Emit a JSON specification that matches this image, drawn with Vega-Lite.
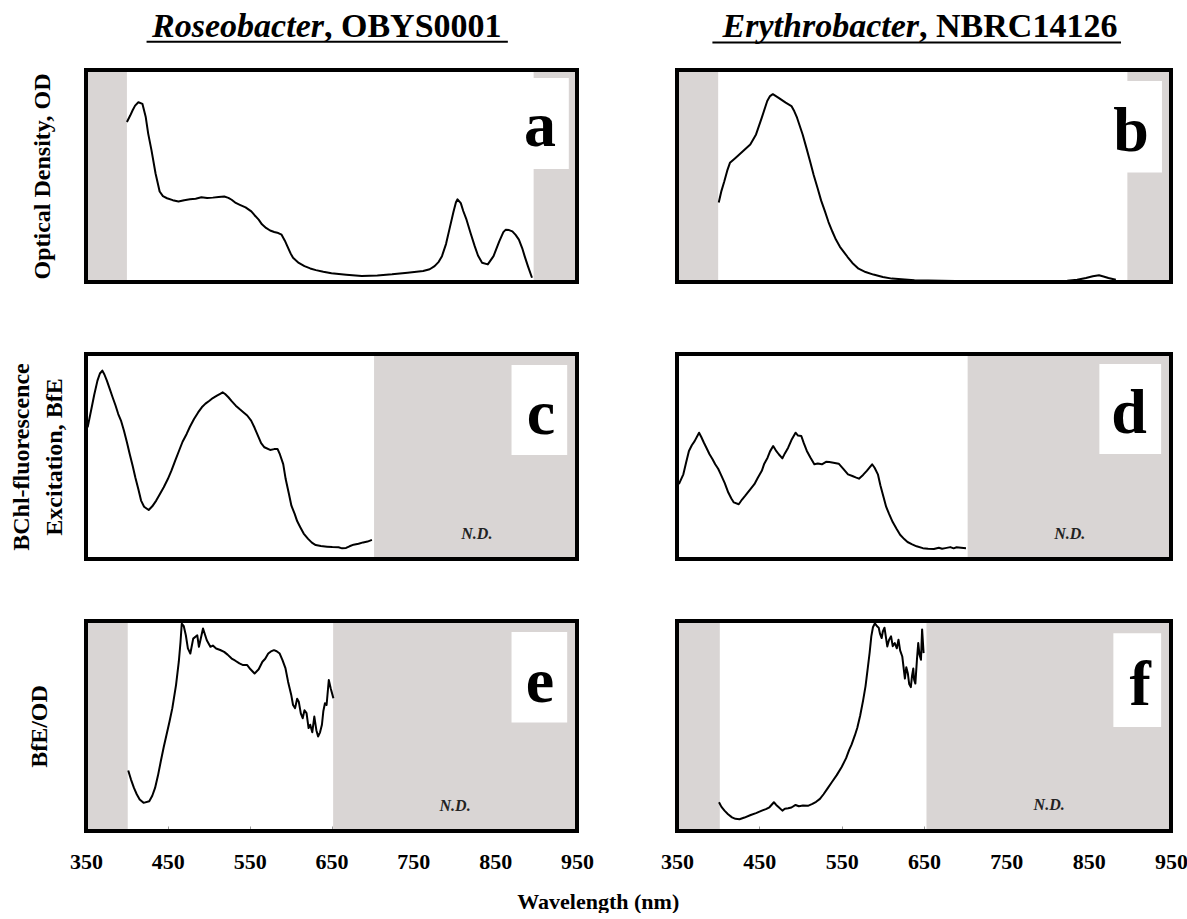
{
"$schema": "https://vega.github.io/schema/vega-lite/v6.json",
"background": "white",
"padding": {"left": 9, "top": 9, "right": 5, "bottom": 0},
"datasets": {
"shades": [
{"panel":"a","w":350,"w2":400,"v":0,"v2":1},{"panel":"a","w":897,"w2":950,"v":0,"v2":1},
{"panel":"b","w":350,"w2":400,"v":0,"v2":1},{"panel":"b","w":897,"w2":950,"v":0,"v2":1},
{"panel":"c","w":702,"w2":950,"v":0,"v2":1},
{"panel":"d","w":703,"w2":950,"v":0,"v2":1},
{"panel":"e","w":350,"w2":401,"v":0,"v2":1},{"panel":"e","w":652,"w2":950,"v":0,"v2":1},
{"panel":"f","w":350,"w2":402,"v":0,"v2":1},{"panel":"f","w":653,"w2":950,"v":0,"v2":1}
],
"boxes": [
{"panel":"a","w":870,"w2":940,"v":0.533,"v2":0.962},
{"panel":"b","w":872,"w2":939,"v":0.517,"v2":0.948},
{"panel":"c","w":870,"w2":938,"v":0.507,"v2":0.946},
{"panel":"d","w":863,"w2":938,"v":0.512,"v2":0.951},
{"panel":"e","w":870,"w2":938,"v":0.517,"v2":0.948},
{"panel":"f","w":880,"w2":938,"v":0.495,"v2":0.942}
],
"letters": [
{"panel":"a","w":904.7,"v":0.643,"text":"a"},
{"panel":"b","w":901.4,"v":0.616,"text":"b"},
{"panel":"c","w":905.9,"v":0.61,"text":"c"},
{"panel":"d","w":899,"v":0.615,"text":"d"},
{"panel":"e","w":904.7,"v":0.616,"text":"e"},
{"panel":"f","w":912.4,"v":0.602,"text":"f"}
],
"notes": [
{"panel":"c","w":827.6,"v":0.10,"text":"N.D."},
{"panel":"d","w":827,"v":0.10,"text":"N.D."},
{"panel":"e","w":801,"v":0.095,"text":"N.D."},
{"panel":"f","w":802,"v":0.10,"text":"N.D."}
],
"heads": [
{"panel":"a","w":640.8,"v":1.158,"part":"genus","text":"Roseobacter"},
{"panel":"a","w":640.8,"v":1.158,"part":"strain","text":", OBYS0001"},
{"panel":"b","w":644,"v":1.155,"part":"genus","text":"Erythrobacter"},
{"panel":"b","w":644,"v":1.155,"part":"strain","text":", NBRC14126"}
],
"underlines": [
{"panel":"a","w":424,"w2":865.5,"v":1.133},
{"panel":"b","w":393,"w2":889.3,"v":1.13}
],
"frames": [
{"panel":"a","w":350,"w2":950,"v":0,"v2":1},
{"panel":"b","w":350,"w2":950,"v":0,"v2":1},
{"panel":"c","w":350,"w2":950,"v":0,"v2":1},
{"panel":"d","w":350,"w2":950,"v":0,"v2":1},
{"panel":"e","w":350,"w2":950,"v":0,"v2":1},
{"panel":"f","w":350,"w2":950,"v":0,"v2":1}
],
"spectra": [
{"panel":"a","w":400,"v":0.755},{"panel":"a","w":404,"v":0.785},{"panel":"a","w":407,"v":0.81},{"panel":"a","w":410,"v":0.832},{"panel":"a","w":414,"v":0.848},{"panel":"a","w":419,"v":0.84},{"panel":"a","w":423,"v":0.778},{"panel":"a","w":426,"v":0.7},{"panel":"a","w":430,"v":0.622},{"panel":"a","w":435,"v":0.512},{"panel":"a","w":440,"v":0.427},{"panel":"a","w":444,"v":0.405},{"panel":"a","w":449,"v":0.395},{"panel":"a","w":456,"v":0.386},{"panel":"a","w":463,"v":0.38},{"panel":"a","w":470,"v":0.386},{"panel":"a","w":477,"v":0.39},{"panel":"a","w":484,"v":0.393},{"panel":"a","w":491,"v":0.4},{"panel":"a","w":498,"v":0.396},{"panel":"a","w":505,"v":0.398},{"panel":"a","w":512,"v":0.401},{"panel":"a","w":519,"v":0.403},{"panel":"a","w":524,"v":0.397},{"panel":"a","w":528,"v":0.388},{"panel":"a","w":533,"v":0.373},{"panel":"a","w":538,"v":0.364},{"panel":"a","w":545,"v":0.352},{"panel":"a","w":552,"v":0.333},{"panel":"a","w":556,"v":0.315},{"panel":"a","w":561,"v":0.294},{"panel":"a","w":565,"v":0.272},{"panel":"a","w":570,"v":0.255},{"panel":"a","w":575,"v":0.243},{"panel":"a","w":580,"v":0.236},{"panel":"a","w":585,"v":0.231},{"panel":"a","w":589,"v":0.223},{"panel":"a","w":593,"v":0.195},{"panel":"a","w":596,"v":0.169},{"panel":"a","w":600,"v":0.135},{"panel":"a","w":603,"v":0.114},{"panel":"a","w":610,"v":0.09},{"panel":"a","w":617,"v":0.075},{"panel":"a","w":624,"v":0.064},{"panel":"a","w":631,"v":0.056},{"panel":"a","w":640,"v":0.048},{"panel":"a","w":650,"v":0.041},{"panel":"a","w":668,"v":0.034},{"panel":"a","w":687,"v":0.028},{"panel":"a","w":706,"v":0.031},{"panel":"a","w":724,"v":0.036},{"panel":"a","w":743,"v":0.044},{"panel":"a","w":762,"v":0.052},{"panel":"a","w":770,"v":0.06},{"panel":"a","w":776,"v":0.075},{"panel":"a","w":781,"v":0.095},{"panel":"a","w":785,"v":0.122},{"panel":"a","w":790,"v":0.18},{"panel":"a","w":794,"v":0.247},{"panel":"a","w":799,"v":0.33},{"panel":"a","w":802,"v":0.375},{"panel":"a","w":804,"v":0.39},{"panel":"a","w":808,"v":0.372},{"panel":"a","w":811,"v":0.335},{"panel":"a","w":815,"v":0.294},{"panel":"a","w":820,"v":0.23},{"panel":"a","w":825,"v":0.169},{"panel":"a","w":829,"v":0.125},{"panel":"a","w":834,"v":0.091},{"panel":"a","w":841,"v":0.083},{"panel":"a","w":848,"v":0.122},{"panel":"a","w":855,"v":0.192},{"panel":"a","w":860,"v":0.235},{"panel":"a","w":863,"v":0.247},{"panel":"a","w":867,"v":0.245},{"panel":"a","w":871,"v":0.239},{"panel":"a","w":875,"v":0.222},{"panel":"a","w":879,"v":0.2},{"panel":"a","w":883,"v":0.16},{"panel":"a","w":886,"v":0.122},{"panel":"a","w":890,"v":0.075},{"panel":"a","w":895,"v":0.02},
{"panel":"b","w":400.7,"v":0.375},{"panel":"b","w":404,"v":0.43},{"panel":"b","w":407.5,"v":0.475},{"panel":"b","w":411,"v":0.525},{"panel":"b","w":414.3,"v":0.562},{"panel":"b","w":421,"v":0.585},{"panel":"b","w":430,"v":0.617},{"panel":"b","w":439,"v":0.649},{"panel":"b","w":446,"v":0.696},{"panel":"b","w":453,"v":0.775},{"panel":"b","w":459.6,"v":0.854},{"panel":"b","w":463,"v":0.877},{"panel":"b","w":466.4,"v":0.886},{"panel":"b","w":473,"v":0.87},{"panel":"b","w":482,"v":0.846},{"panel":"b","w":489,"v":0.83},{"panel":"b","w":492.5,"v":0.805},{"panel":"b","w":495.8,"v":0.775},{"panel":"b","w":502.6,"v":0.696},{"panel":"b","w":507,"v":0.635},{"panel":"b","w":511.6,"v":0.57},{"panel":"b","w":516,"v":0.505},{"panel":"b","w":520.7,"v":0.443},{"panel":"b","w":525,"v":0.385},{"panel":"b","w":529.8,"v":0.332},{"panel":"b","w":534,"v":0.283},{"panel":"b","w":538.8,"v":0.237},{"panel":"b","w":543,"v":0.2},{"panel":"b","w":547.9,"v":0.166},{"panel":"b","w":557,"v":0.119},{"panel":"b","w":563,"v":0.09},{"panel":"b","w":570.5,"v":0.063},{"panel":"b","w":579,"v":0.047},{"panel":"b","w":588.6,"v":0.035},{"panel":"b","w":600,"v":0.024},{"panel":"b","w":611,"v":0.016},{"panel":"b","w":638.4,"v":0.008},{"panel":"b","w":688,"v":0.005},{"panel":"b","w":756,"v":0.005},{"panel":"b","w":824,"v":0.006},{"panel":"b","w":836,"v":0.011},{"panel":"b","w":846.7,"v":0.019},{"panel":"b","w":855,"v":0.027},{"panel":"b","w":862.6,"v":0.032},{"panel":"b","w":868,"v":0.026},{"panel":"b","w":874,"v":0.019},{"panel":"b","w":883,"v":0.011},
{"panel":"c","w":352,"v":0.642},{"panel":"c","w":357,"v":0.74},{"panel":"c","w":360,"v":0.8},{"panel":"c","w":364,"v":0.87},{"panel":"c","w":367,"v":0.905},{"panel":"c","w":370,"v":0.919},{"panel":"c","w":372.5,"v":0.9},{"panel":"c","w":375.5,"v":0.87},{"panel":"c","w":379,"v":0.83},{"panel":"c","w":382.5,"v":0.789},{"panel":"c","w":386,"v":0.75},{"panel":"c","w":389.4,"v":0.707},{"panel":"c","w":393,"v":0.672},{"panel":"c","w":396.4,"v":0.626},{"panel":"c","w":400,"v":0.57},{"panel":"c","w":403.4,"v":0.512},{"panel":"c","w":407,"v":0.455},{"panel":"c","w":410.3,"v":0.398},{"panel":"c","w":414,"v":0.34},{"panel":"c","w":417.3,"v":0.285},{"panel":"c","w":421,"v":0.255},{"panel":"c","w":426.6,"v":0.239},{"panel":"c","w":431,"v":0.257},{"panel":"c","w":435.8,"v":0.285},{"panel":"c","w":440,"v":0.315},{"panel":"c","w":445,"v":0.35},{"panel":"c","w":450,"v":0.39},{"panel":"c","w":454.4,"v":0.431},{"panel":"c","w":459,"v":0.48},{"panel":"c","w":463.7,"v":0.528},{"panel":"c","w":468,"v":0.572},{"panel":"c","w":473,"v":0.61},{"panel":"c","w":477,"v":0.645},{"panel":"c","w":482,"v":0.683},{"panel":"c","w":487,"v":0.715},{"panel":"c","w":491.5,"v":0.74},{"panel":"c","w":496,"v":0.758},{"panel":"c","w":500.8,"v":0.772},{"panel":"c","w":505,"v":0.785},{"panel":"c","w":510,"v":0.797},{"panel":"c","w":514,"v":0.806},{"panel":"c","w":517,"v":0.813},{"panel":"c","w":520,"v":0.805},{"panel":"c","w":524,"v":0.789},{"panel":"c","w":528,"v":0.77},{"panel":"c","w":533,"v":0.748},{"panel":"c","w":538,"v":0.73},{"panel":"c","w":542.6,"v":0.715},{"panel":"c","w":547,"v":0.7},{"panel":"c","w":551.8,"v":0.675},{"panel":"c","w":556,"v":0.64},{"panel":"c","w":561,"v":0.593},{"panel":"c","w":564,"v":0.565},{"panel":"c","w":568,"v":0.545},{"panel":"c","w":575,"v":0.532},{"panel":"c","w":580,"v":0.536},{"panel":"c","w":584,"v":0.537},{"panel":"c","w":587,"v":0.51},{"panel":"c","w":591,"v":0.463},{"panel":"c","w":594,"v":0.39},{"panel":"c","w":598,"v":0.317},{"panel":"c","w":601,"v":0.26},{"panel":"c","w":605,"v":0.22},{"panel":"c","w":608,"v":0.185},{"panel":"c","w":612,"v":0.154},{"panel":"c","w":616,"v":0.124},{"panel":"c","w":621.4,"v":0.098},{"panel":"c","w":626,"v":0.08},{"panel":"c","w":630.7,"v":0.068},{"panel":"c","w":637,"v":0.063},{"panel":"c","w":644.6,"v":0.06},{"panel":"c","w":651,"v":0.058},{"panel":"c","w":658.6,"v":0.057},{"panel":"c","w":663,"v":0.052},{"panel":"c","w":667.8,"v":0.054},{"panel":"c","w":672,"v":0.062},{"panel":"c","w":677,"v":0.07},{"panel":"c","w":683,"v":0.074},{"panel":"c","w":688.7,"v":0.081},{"panel":"c","w":694,"v":0.085},{"panel":"c","w":699.4,"v":0.093},
{"panel":"d","w":352.3,"v":0.365},{"panel":"d","w":357.7,"v":0.413},{"panel":"d","w":361,"v":0.47},{"panel":"d","w":364.5,"v":0.527},{"panel":"d","w":368,"v":0.555},{"panel":"d","w":371.4,"v":0.575},{"panel":"d","w":376.8,"v":0.616},{"panel":"d","w":379.5,"v":0.595},{"panel":"d","w":382.7,"v":0.567},{"panel":"d","w":386,"v":0.54},{"panel":"d","w":389.5,"v":0.511},{"panel":"d","w":393,"v":0.488},{"panel":"d","w":396.4,"v":0.462},{"panel":"d","w":400,"v":0.44},{"panel":"d","w":403.2,"v":0.413},{"panel":"d","w":408,"v":0.37},{"panel":"d","w":412.3,"v":0.324},{"panel":"d","w":416,"v":0.295},{"panel":"d","w":419,"v":0.276},{"panel":"d","w":425,"v":0.267},{"panel":"d","w":429,"v":0.29},{"panel":"d","w":432.7,"v":0.308},{"panel":"d","w":438,"v":0.335},{"panel":"d","w":444,"v":0.365},{"panel":"d","w":448,"v":0.395},{"panel":"d","w":453,"v":0.43},{"panel":"d","w":456,"v":0.465},{"panel":"d","w":460,"v":0.494},{"panel":"d","w":463,"v":0.525},{"panel":"d","w":466.8,"v":0.551},{"panel":"d","w":470,"v":0.53},{"panel":"d","w":473.6,"v":0.511},{"panel":"d","w":478,"v":0.491},{"panel":"d","w":481,"v":0.515},{"panel":"d","w":485,"v":0.543},{"panel":"d","w":489,"v":0.58},{"panel":"d","w":494,"v":0.616},{"panel":"d","w":497,"v":0.602},{"panel":"d","w":501,"v":0.6},{"panel":"d","w":504,"v":0.565},{"panel":"d","w":507.7,"v":0.527},{"panel":"d","w":512,"v":0.495},{"panel":"d","w":516.8,"v":0.462},{"panel":"d","w":521,"v":0.466},{"panel":"d","w":526,"v":0.462},{"panel":"d","w":531,"v":0.474},{"panel":"d","w":535,"v":0.473},{"panel":"d","w":540,"v":0.47},{"panel":"d","w":546.4,"v":0.465},{"panel":"d","w":552,"v":0.44},{"panel":"d","w":557.7,"v":0.413},{"panel":"d","w":563,"v":0.405},{"panel":"d","w":567,"v":0.398},{"panel":"d","w":571,"v":0.392},{"panel":"d","w":576,"v":0.41},{"panel":"d","w":580.5,"v":0.43},{"panel":"d","w":587,"v":0.462},{"panel":"d","w":590,"v":0.445},{"panel":"d","w":594,"v":0.413},{"panel":"d","w":597,"v":0.36},{"panel":"d","w":601,"v":0.3},{"panel":"d","w":604,"v":0.255},{"panel":"d","w":607.7,"v":0.219},{"panel":"d","w":612,"v":0.18},{"panel":"d","w":616.8,"v":0.146},{"panel":"d","w":621,"v":0.118},{"panel":"d","w":626,"v":0.097},{"panel":"d","w":630,"v":0.083},{"panel":"d","w":635,"v":0.073},{"panel":"d","w":641,"v":0.062},{"panel":"d","w":648.6,"v":0.053},{"panel":"d","w":655,"v":0.05},{"panel":"d","w":662,"v":0.049},{"panel":"d","w":668,"v":0.055},{"panel":"d","w":672,"v":0.05},{"panel":"d","w":676,"v":0.053},{"panel":"d","w":682,"v":0.058},{"panel":"d","w":686,"v":0.052},{"panel":"d","w":689.5,"v":0.057},{"panel":"d","w":695,"v":0.055},{"panel":"d","w":701,"v":0.053},
{"panel":"e","w":401.6,"v":0.288},{"panel":"e","w":405,"v":0.245},{"panel":"e","w":408.6,"v":0.205},{"panel":"e","w":412,"v":0.175},{"panel":"e","w":415.6,"v":0.15},{"panel":"e","w":420.3,"v":0.134},{"panel":"e","w":427.3,"v":0.142},{"panel":"e","w":431,"v":0.168},{"panel":"e","w":434.4,"v":0.205},{"panel":"e","w":438,"v":0.265},{"panel":"e","w":441.4,"v":0.332},{"panel":"e","w":445,"v":0.4},{"panel":"e","w":448.4,"v":0.458},{"panel":"e","w":452,"v":0.52},{"panel":"e","w":455.5,"v":0.585},{"panel":"e","w":460,"v":0.695},{"panel":"e","w":463.4,"v":0.806},{"panel":"e","w":465.5,"v":0.9},{"panel":"e","w":467,"v":0.987},{"panel":"e","w":469.5,"v":0.975},{"panel":"e","w":472,"v":0.932},{"panel":"e","w":474.5,"v":0.87},{"panel":"e","w":477.5,"v":0.845},{"panel":"e","w":481,"v":0.916},{"panel":"e","w":486,"v":0.932},{"panel":"e","w":488,"v":0.877},{"panel":"e","w":493,"v":0.964},{"panel":"e","w":497.6,"v":0.908},{"panel":"e","w":502,"v":0.877},{"panel":"e","w":505,"v":0.883},{"panel":"e","w":509,"v":0.869},{"panel":"e","w":514,"v":0.862},{"panel":"e","w":518.8,"v":0.853},{"panel":"e","w":523,"v":0.84},{"panel":"e","w":528,"v":0.821},{"panel":"e","w":532,"v":0.812},{"panel":"e","w":537.5,"v":0.798},{"panel":"e","w":542,"v":0.79},{"panel":"e","w":547,"v":0.79},{"panel":"e","w":551,"v":0.77},{"panel":"e","w":556,"v":0.75},{"panel":"e","w":561,"v":0.77},{"panel":"e","w":565.6,"v":0.806},{"panel":"e","w":569,"v":0.82},{"panel":"e","w":572.7,"v":0.845},{"panel":"e","w":576,"v":0.855},{"panel":"e","w":579.7,"v":0.861},{"panel":"e","w":583,"v":0.856},{"panel":"e","w":586.7,"v":0.845},{"panel":"e","w":590,"v":0.815},{"panel":"e","w":593.8,"v":0.774},{"panel":"e","w":597,"v":0.71},{"panel":"e","w":600.8,"v":0.648},{"panel":"e","w":603,"v":0.6},{"panel":"e","w":605.5,"v":0.585},{"panel":"e","w":608,"v":0.63},{"panel":"e","w":610,"v":0.616},{"panel":"e","w":612.5,"v":0.56},{"panel":"e","w":614.8,"v":0.537},{"panel":"e","w":617,"v":0.575},{"panel":"e","w":619.5,"v":0.561},{"panel":"e","w":622,"v":0.49},{"panel":"e","w":624,"v":0.506},{"panel":"e","w":626.5,"v":0.47},{"panel":"e","w":629,"v":0.545},{"panel":"e","w":631.5,"v":0.48},{"panel":"e","w":633.6,"v":0.45},{"panel":"e","w":636,"v":0.47},{"panel":"e","w":638.3,"v":0.506},{"panel":"e","w":640,"v":0.57},{"panel":"e","w":642,"v":0.608},{"panel":"e","w":644,"v":0.6},{"panel":"e","w":646.7,"v":0.719},{"panel":"e","w":649,"v":0.68},{"panel":"e","w":652.3,"v":0.632},
{"panel":"f","w":401,"v":0.137},{"panel":"f","w":404,"v":0.115},{"panel":"f","w":407.7,"v":0.097},{"panel":"f","w":412,"v":0.08},{"panel":"f","w":416.8,"v":0.065},{"panel":"f","w":421,"v":0.058},{"panel":"f","w":425.9,"v":0.056},{"panel":"f","w":432,"v":0.064},{"panel":"f","w":439.5,"v":0.076},{"panel":"f","w":446,"v":0.085},{"panel":"f","w":453,"v":0.097},{"panel":"f","w":458,"v":0.104},{"panel":"f","w":462.3,"v":0.113},{"panel":"f","w":467.7,"v":0.137},{"panel":"f","w":470.5,"v":0.124},{"panel":"f","w":473.6,"v":0.113},{"panel":"f","w":478,"v":0.097},{"panel":"f","w":481,"v":0.106},{"panel":"f","w":485,"v":0.108},{"panel":"f","w":489,"v":0.112},{"panel":"f","w":494,"v":0.124},{"panel":"f","w":498,"v":0.118},{"panel":"f","w":503,"v":0.121},{"panel":"f","w":509,"v":0.12},{"panel":"f","w":514.5,"v":0.129},{"panel":"f","w":519,"v":0.139},{"panel":"f","w":523.6,"v":0.153},{"panel":"f","w":528,"v":0.175},{"panel":"f","w":532.7,"v":0.202},{"panel":"f","w":538,"v":0.232},{"panel":"f","w":544,"v":0.266},{"panel":"f","w":550,"v":0.305},{"panel":"f","w":555.4,"v":0.347},{"panel":"f","w":559,"v":0.385},{"panel":"f","w":562,"v":0.411},{"panel":"f","w":566,"v":0.455},{"panel":"f","w":569,"v":0.492},{"panel":"f","w":572.5,"v":0.55},{"panel":"f","w":576,"v":0.621},{"panel":"f","w":579,"v":0.69},{"panel":"f","w":581.4,"v":0.766},{"panel":"f","w":584,"v":0.85},{"panel":"f","w":586,"v":0.927},{"panel":"f","w":588,"v":0.97},{"panel":"f","w":590.4,"v":0.989},{"panel":"f","w":593,"v":0.975},{"panel":"f","w":595,"v":0.968},{"panel":"f","w":596.5,"v":0.94},{"panel":"f","w":598.6,"v":0.919},{"panel":"f","w":600,"v":0.95},{"panel":"f","w":602,"v":0.968},{"panel":"f","w":605.4,"v":0.879},{"panel":"f","w":607.5,"v":0.91},{"panel":"f","w":610,"v":0.927},{"panel":"f","w":612,"v":0.88},{"panel":"f","w":614.5,"v":0.895},{"panel":"f","w":617,"v":0.87},{"panel":"f","w":619,"v":0.911},{"panel":"f","w":621,"v":0.86},{"panel":"f","w":623.6,"v":0.831},{"panel":"f","w":626.8,"v":0.726},{"panel":"f","w":628.5,"v":0.78},{"panel":"f","w":630.4,"v":0.75},{"panel":"f","w":632,"v":0.7},{"panel":"f","w":634,"v":0.685},{"panel":"f","w":635.5,"v":0.74},{"panel":"f","w":637,"v":0.774},{"panel":"f","w":638,"v":0.72},{"panel":"f","w":639.5,"v":0.702},{"panel":"f","w":641.5,"v":0.82},{"panel":"f","w":643,"v":0.895},{"panel":"f","w":644.5,"v":0.84},{"panel":"f","w":646.3,"v":0.815},{"panel":"f","w":647.7,"v":0.96},{"panel":"f","w":649.5,"v":0.847}
]
},
"title": {"text": "Wavelength (nm)", "orient": "bottom", "anchor": "middle", "font": "Liberation Serif", "fontSize": 22, "fontWeight": "bold", "color": "black", "offset": 20},
"spacing": 68,
"resolve": {"scale": {"x": "independent", "y": "independent"}},
"vconcat": [
{"hconcat": [
 {"width": 491, "height": 212,
  "encoding": {"x": {"field": "w", "type": "quantitative", "scale": {"domain": [350, 950], "nice": false, "zero": false}, "axis": null},
               "y": {"field": "v", "type": "quantitative", "scale": {"domain": [0, 1], "nice": false, "zero": false}, "axis": {"title": "Optical Density, OD", "labels": false, "ticks": false, "domain": false, "grid": false, "titleFont": "Liberation Serif", "titleFontSize": 24, "titleFontWeight": "bold", "titleColor": "black", "titlePadding": 32}}},
  "layer": [
   {"data": {"name": "shades"}, "transform": [{"filter": "datum.panel == 'a'"}], "mark": {"type": "rect", "color": "#d9d5d4"}, "encoding": {"x2": {"field": "w2"}, "y2": {"field": "v2"}}},
   {"data": {"name": "boxes"}, "transform": [{"filter": "datum.panel == 'a'"}], "mark": {"type": "rect", "color": "white"}, "encoding": {"x2": {"field": "w2"}, "y2": {"field": "v2"}}},
   {"data": {"name": "spectra"}, "transform": [{"filter": "datum.panel == 'a'"}], "mark": {"type": "line", "color": "black", "strokeWidth": 2, "strokeJoin": "round"}, "encoding": {}},
   {"data": {"name": "letters"}, "transform": [{"filter": "datum.panel == 'a'"}], "mark": {"type": "text", "font": "Liberation Serif", "fontSize": 64, "fontWeight": "bold", "align": "center", "baseline": "alphabetic", "color": "black"}, "encoding": {"text": {"field": "text"}}},
   {"data": {"name": "heads"}, "transform": [{"filter": "datum.panel == 'a' && datum.part == 'genus'"}], "mark": {"type": "text", "font": "Liberation Serif", "fontSize": 34, "fontWeight": "bold", "fontStyle": "italic", "align": "right", "baseline": "alphabetic", "color": "black", "clip": false}, "encoding": {"text": {"field": "text"}}},
   {"data": {"name": "heads"}, "transform": [{"filter": "datum.panel == 'a' && datum.part == 'strain'"}], "mark": {"type": "text", "font": "Liberation Serif", "fontSize": 34, "fontWeight": "bold", "align": "left", "baseline": "alphabetic", "color": "black", "clip": false}, "encoding": {"text": {"field": "text"}}},
   {"data": {"name": "underlines"}, "transform": [{"filter": "datum.panel == 'a'"}], "mark": {"type": "rule", "color": "black", "strokeWidth": 2, "clip": false}, "encoding": {"x2": {"field": "w2"}}},
   {"data": {"name": "frames"}, "transform": [{"filter": "datum.panel == 'a'"}], "mark": {"type": "rect", "fill": null, "stroke": "black", "strokeWidth": 4}, "encoding": {"x2": {"field": "w2"}, "y2": {"field": "v2"}}}
  ]},
 {"width": 494, "height": 212,
  "encoding": {"x": {"field": "w", "type": "quantitative", "scale": {"domain": [350, 950], "nice": false, "zero": false}, "axis": null},
               "y": {"field": "v", "type": "quantitative", "scale": {"domain": [0, 1], "nice": false, "zero": false}, "axis": null}},
  "layer": [
   {"data": {"name": "shades"}, "transform": [{"filter": "datum.panel == 'b'"}], "mark": {"type": "rect", "color": "#d9d5d4"}, "encoding": {"x2": {"field": "w2"}, "y2": {"field": "v2"}}},
   {"data": {"name": "boxes"}, "transform": [{"filter": "datum.panel == 'b'"}], "mark": {"type": "rect", "color": "white"}, "encoding": {"x2": {"field": "w2"}, "y2": {"field": "v2"}}},
   {"data": {"name": "spectra"}, "transform": [{"filter": "datum.panel == 'b'"}], "mark": {"type": "line", "color": "black", "strokeWidth": 2, "strokeJoin": "round"}, "encoding": {}},
   {"data": {"name": "letters"}, "transform": [{"filter": "datum.panel == 'b'"}], "mark": {"type": "text", "font": "Liberation Serif", "fontSize": 64, "fontWeight": "bold", "align": "center", "baseline": "alphabetic", "color": "black"}, "encoding": {"text": {"field": "text"}}},
   {"data": {"name": "heads"}, "transform": [{"filter": "datum.panel == 'b' && datum.part == 'genus'"}], "mark": {"type": "text", "font": "Liberation Serif", "fontSize": 34, "fontWeight": "bold", "fontStyle": "italic", "align": "right", "baseline": "alphabetic", "color": "black", "clip": false}, "encoding": {"text": {"field": "text"}}},
   {"data": {"name": "heads"}, "transform": [{"filter": "datum.panel == 'b' && datum.part == 'strain'"}], "mark": {"type": "text", "font": "Liberation Serif", "fontSize": 34, "fontWeight": "bold", "align": "left", "baseline": "alphabetic", "color": "black", "clip": false}, "encoding": {"text": {"field": "text"}}},
   {"data": {"name": "underlines"}, "transform": [{"filter": "datum.panel == 'b'"}], "mark": {"type": "rule", "color": "black", "strokeWidth": 2, "clip": false}, "encoding": {"x2": {"field": "w2"}}},
   {"data": {"name": "frames"}, "transform": [{"filter": "datum.panel == 'b'"}], "mark": {"type": "rect", "fill": null, "stroke": "black", "strokeWidth": 4}, "encoding": {"x2": {"field": "w2"}, "y2": {"field": "v2"}}}
  ]}
 ], "spacing": 100, "bounds": "flush", "resolve": {"scale": {"x": "independent", "y": "independent"}}},
{"vconcat": [
 {"hconcat": [
  {"width": 491, "height": 205,
   "encoding": {"x": {"field": "w", "type": "quantitative", "scale": {"domain": [350, 950], "nice": false, "zero": false}, "axis": null},
                "y": {"field": "v", "type": "quantitative", "scale": {"domain": [0, 1], "nice": false, "zero": false}, "axis": {"title": ["BChl-fluorescence", "Excitation, BfE"], "labels": false, "ticks": false, "domain": false, "grid": false, "titleFont": "Liberation Serif", "titleFontSize": 24, "titleFontWeight": "bold", "titleColor": "black", "titlePadding": 20, "titleLineHeight": 33}}},
   "layer": [
    {"data": {"name": "shades"}, "transform": [{"filter": "datum.panel == 'c'"}], "mark": {"type": "rect", "color": "#d9d5d4"}, "encoding": {"x2": {"field": "w2"}, "y2": {"field": "v2"}}},
    {"data": {"name": "boxes"}, "transform": [{"filter": "datum.panel == 'c'"}], "mark": {"type": "rect", "color": "white"}, "encoding": {"x2": {"field": "w2"}, "y2": {"field": "v2"}}},
    {"data": {"name": "spectra"}, "transform": [{"filter": "datum.panel == 'c'"}], "mark": {"type": "line", "color": "black", "strokeWidth": 2, "strokeJoin": "round"}, "encoding": {}},
    {"data": {"name": "letters"}, "transform": [{"filter": "datum.panel == 'c'"}], "mark": {"type": "text", "font": "Liberation Serif", "fontSize": 64, "fontWeight": "bold", "align": "center", "baseline": "alphabetic", "color": "black"}, "encoding": {"text": {"field": "text"}}},
    {"data": {"name": "notes"}, "transform": [{"filter": "datum.panel == 'c'"}], "mark": {"type": "text", "font": "Liberation Serif", "fontSize": 16, "fontWeight": "bold", "fontStyle": "italic", "align": "center", "baseline": "alphabetic", "color": "#222"}, "encoding": {"text": {"field": "text"}}},
    {"data": {"name": "frames"}, "transform": [{"filter": "datum.panel == 'c'"}], "mark": {"type": "rect", "fill": null, "stroke": "black", "strokeWidth": 4}, "encoding": {"x2": {"field": "w2"}, "y2": {"field": "v2"}}}
   ]},
  {"width": 494, "height": 205,
   "encoding": {"x": {"field": "w", "type": "quantitative", "scale": {"domain": [350, 950], "nice": false, "zero": false}, "axis": null},
                "y": {"field": "v", "type": "quantitative", "scale": {"domain": [0, 1], "nice": false, "zero": false}, "axis": null}},
   "layer": [
    {"data": {"name": "shades"}, "transform": [{"filter": "datum.panel == 'd'"}], "mark": {"type": "rect", "color": "#d9d5d4"}, "encoding": {"x2": {"field": "w2"}, "y2": {"field": "v2"}}},
    {"data": {"name": "boxes"}, "transform": [{"filter": "datum.panel == 'd'"}], "mark": {"type": "rect", "color": "white"}, "encoding": {"x2": {"field": "w2"}, "y2": {"field": "v2"}}},
    {"data": {"name": "spectra"}, "transform": [{"filter": "datum.panel == 'd'"}], "mark": {"type": "line", "color": "black", "strokeWidth": 2, "strokeJoin": "round"}, "encoding": {}},
    {"data": {"name": "letters"}, "transform": [{"filter": "datum.panel == 'd'"}], "mark": {"type": "text", "font": "Liberation Serif", "fontSize": 64, "fontWeight": "bold", "align": "center", "baseline": "alphabetic", "color": "black"}, "encoding": {"text": {"field": "text"}}},
    {"data": {"name": "notes"}, "transform": [{"filter": "datum.panel == 'd'"}], "mark": {"type": "text", "font": "Liberation Serif", "fontSize": 16, "fontWeight": "bold", "fontStyle": "italic", "align": "center", "baseline": "alphabetic", "color": "#222"}, "encoding": {"text": {"field": "text"}}},
    {"data": {"name": "frames"}, "transform": [{"filter": "datum.panel == 'd'"}], "mark": {"type": "rect", "fill": null, "stroke": "black", "strokeWidth": 4}, "encoding": {"x2": {"field": "w2"}, "y2": {"field": "v2"}}}
   ]}
 ], "spacing": 100, "bounds": "flush", "resolve": {"scale": {"x": "independent", "y": "independent"}}},
 {"hconcat": [
  {"width": 491, "height": 210,
   "encoding": {"x": {"field": "w", "type": "quantitative", "scale": {"domain": [350, 950], "nice": false, "zero": false}, "axis": {"title": null, "values": [350, 450, 550, 650, 750, 850, 950], "tickSize": -5, "tickColor": "#999", "tickWidth": 1, "domain": false, "grid": false, "labelFont": "Liberation Serif", "labelFontSize": 22, "labelFontWeight": "bold", "labelColor": "black", "labelPadding": 25, "labelFlush": false, "labelOverlap": false}},
                "y": {"field": "v", "type": "quantitative", "scale": {"domain": [0, 1], "nice": false, "zero": false}, "axis": {"title": "BfE/OD", "labels": false, "ticks": false, "domain": false, "grid": false, "titleFont": "Liberation Serif", "titleFontSize": 24, "titleFontWeight": "bold", "titleColor": "black", "titlePadding": 35}}},
   "layer": [
    {"data": {"name": "shades"}, "transform": [{"filter": "datum.panel == 'e'"}], "mark": {"type": "rect", "color": "#d9d5d4"}, "encoding": {"x2": {"field": "w2"}, "y2": {"field": "v2"}}},
    {"data": {"name": "boxes"}, "transform": [{"filter": "datum.panel == 'e'"}], "mark": {"type": "rect", "color": "white"}, "encoding": {"x2": {"field": "w2"}, "y2": {"field": "v2"}}},
    {"data": {"name": "spectra"}, "transform": [{"filter": "datum.panel == 'e'"}], "mark": {"type": "line", "color": "black", "strokeWidth": 2, "strokeJoin": "round"}, "encoding": {}},
    {"data": {"name": "letters"}, "transform": [{"filter": "datum.panel == 'e'"}], "mark": {"type": "text", "font": "Liberation Serif", "fontSize": 64, "fontWeight": "bold", "align": "center", "baseline": "alphabetic", "color": "black"}, "encoding": {"text": {"field": "text"}}},
    {"data": {"name": "notes"}, "transform": [{"filter": "datum.panel == 'e'"}], "mark": {"type": "text", "font": "Liberation Serif", "fontSize": 16, "fontWeight": "bold", "fontStyle": "italic", "align": "center", "baseline": "alphabetic", "color": "#222"}, "encoding": {"text": {"field": "text"}}},
    {"data": {"name": "frames"}, "transform": [{"filter": "datum.panel == 'e'"}], "mark": {"type": "rect", "fill": null, "stroke": "black", "strokeWidth": 4}, "encoding": {"x2": {"field": "w2"}, "y2": {"field": "v2"}}}
   ]},
  {"width": 494, "height": 210,
   "encoding": {"x": {"field": "w", "type": "quantitative", "scale": {"domain": [350, 950], "nice": false, "zero": false}, "axis": {"title": null, "values": [350, 450, 550, 650, 750, 850, 950], "tickSize": -5, "tickColor": "#999", "tickWidth": 1, "domain": false, "grid": false, "labelFont": "Liberation Serif", "labelFontSize": 22, "labelFontWeight": "bold", "labelColor": "black", "labelPadding": 25, "labelFlush": false, "labelOverlap": false}},
                "y": {"field": "v", "type": "quantitative", "scale": {"domain": [0, 1], "nice": false, "zero": false}, "axis": null}},
   "layer": [
    {"data": {"name": "shades"}, "transform": [{"filter": "datum.panel == 'f'"}], "mark": {"type": "rect", "color": "#d9d5d4"}, "encoding": {"x2": {"field": "w2"}, "y2": {"field": "v2"}}},
    {"data": {"name": "boxes"}, "transform": [{"filter": "datum.panel == 'f'"}], "mark": {"type": "rect", "color": "white"}, "encoding": {"x2": {"field": "w2"}, "y2": {"field": "v2"}}},
    {"data": {"name": "spectra"}, "transform": [{"filter": "datum.panel == 'f'"}], "mark": {"type": "line", "color": "black", "strokeWidth": 2, "strokeJoin": "round"}, "encoding": {}},
    {"data": {"name": "letters"}, "transform": [{"filter": "datum.panel == 'f'"}], "mark": {"type": "text", "font": "Liberation Serif", "fontSize": 64, "fontWeight": "bold", "align": "center", "baseline": "alphabetic", "color": "black"}, "encoding": {"text": {"field": "text"}}},
    {"data": {"name": "notes"}, "transform": [{"filter": "datum.panel == 'f'"}], "mark": {"type": "text", "font": "Liberation Serif", "fontSize": 16, "fontWeight": "bold", "fontStyle": "italic", "align": "center", "baseline": "alphabetic", "color": "#222"}, "encoding": {"text": {"field": "text"}}},
    {"data": {"name": "frames"}, "transform": [{"filter": "datum.panel == 'f'"}], "mark": {"type": "rect", "fill": null, "stroke": "black", "strokeWidth": 4}, "encoding": {"x2": {"field": "w2"}, "y2": {"field": "v2"}}}
   ]}
 ], "spacing": 100, "bounds": "flush", "resolve": {"scale": {"x": "independent", "y": "independent"}}}
], "spacing": 58, "resolve": {"scale": {"x": "independent", "y": "independent"}}}
],
"config": {"view": {"stroke": null}, "axis": {"grid": false}, "font": "Liberation Serif"}
}
